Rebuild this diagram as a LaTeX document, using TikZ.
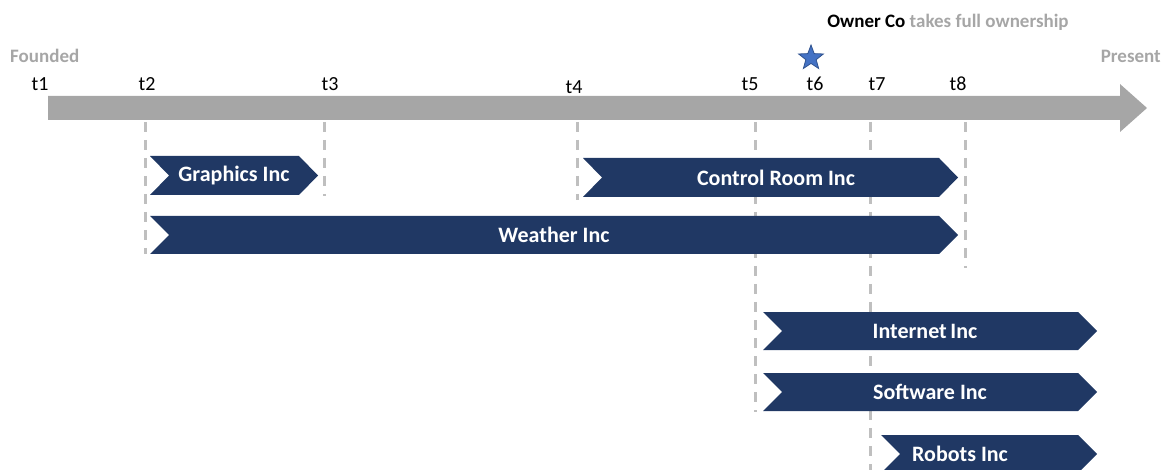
\documentclass[tikz,border=0pt]{standalone}
\usepackage{fontspec}
\setmainfont{Carlito}
\usetikzlibrary{shapes.geometric}
\definecolor{navy}{HTML}{203864}
\definecolor{bargray}{HTML}{A6A6A6}
\definecolor{dashgray}{HTML}{BFBFBF}
\definecolor{starblue}{HTML}{4472C4}
\definecolor{staredge}{HTML}{2F528F}
\tikzset{
  tlabel/.style={anchor=base, font=\fontsize{20}{20}\selectfont, inner sep=0},
  graylbl/.style={text=bargray, font=\bfseries\fontsize{19}{19}\selectfont, inner sep=0, anchor=base},
  clabel/.style={text=white, font=\bfseries\fontsize{22}{22}\selectfont, inner sep=0},
  guide/.style={dashgray, line width=3pt, dash pattern=on 10pt off 8pt},
  chevfill/.style={fill=navy}
}
\def\chevron#1#2#3#4#5#6#7{%
  \fill[chevfill] (#2,#4) -- ({#3-19},#4) -- (#3,{(#4+#5)/2}) -- ({#3-19},#5) -- (#2,#5) -- ({#2+19},{(#4+#5)/2}) -- cycle;
  \node[clabel] (#1) at (#6,{(#4+#5)/2}) {#7};
}
\begin{document}
\begin{tikzpicture}[x=1pt,y=-1pt]
\useasboundingbox (0,0) rectangle (1167,470);
% timeline bar
\fill[bargray] (48,96) -- (1120,96) -- (1120,84) -- (1147,108) -- (1120,132) -- (1120,120) -- (48,120) -- cycle;
% tick coordinates
\coordinate (g2a) at (145,122); \coordinate (g2b) at (145,254);
\coordinate (g3a) at (324,122); \coordinate (g3b) at (324,196);
\coordinate (g4a) at (577,122); \coordinate (g4b) at (577,200);
\coordinate (g5a) at (755,122); \coordinate (g5b) at (755,412);
\coordinate (g7a) at (870,122); \coordinate (g7b) at (870,470);
\coordinate (g8a) at (965,122); \coordinate (g8b) at (965,268);
\draw[guide] (g2a) -- (g2b);
\draw[guide] (g3a) -- (g3b);
\draw[guide] (g4a) -- (g4b);
\draw[guide] (g5a) -- (g5b);
\draw[guide] (g7a) -- (g7b);
\draw[guide] (g8a) -- (g8b);
% labels
\node[tlabel] (t1) at (40,91) {t1};
\node[tlabel] (t2) at (147,91) {t2};
\node[tlabel] (t3) at (330,91) {t3};
\node[tlabel] (t4) at (574,94) {t4};
\node[tlabel] (t5) at (750,91) {t5};
\node[tlabel] (t6) at (815,91) {t6};
\node[tlabel] (t7) at (877,91) {t7};
\node[tlabel] (t8) at (958,91) {t8};
\node[graylbl, anchor=base west] (founded) at (10,63) {Founded};
\node[graylbl, anchor=base east] (present) at (1161,63) {Present};
\node[graylbl, anchor=base] (owner) at (948,28) {\textcolor{black}{Owner Co} takes full ownership};
\node[star, star points=5, star point ratio=2.4, fill=starblue, draw=staredge, line width=0.8pt, minimum size=26pt, inner sep=0] (star) at (811,58) {};
% chevrons
\chevron{graphics}{150}{318}{156}{195}{234}{Graphics Inc}
\chevron{control}{583}{958}{158}{197}{776}{Control Room Inc}
\chevron{weather}{150}{958}{216}{254}{554}{Weather Inc}
\chevron{internet}{763}{1097}{312}{350}{925}{Internet\,Inc}
\chevron{software}{763}{1097}{373}{411}{930}{Software Inc}
\chevron{robots}{881}{1097}{435}{473}{960}{Robots Inc}
\end{tikzpicture}
\end{document}
